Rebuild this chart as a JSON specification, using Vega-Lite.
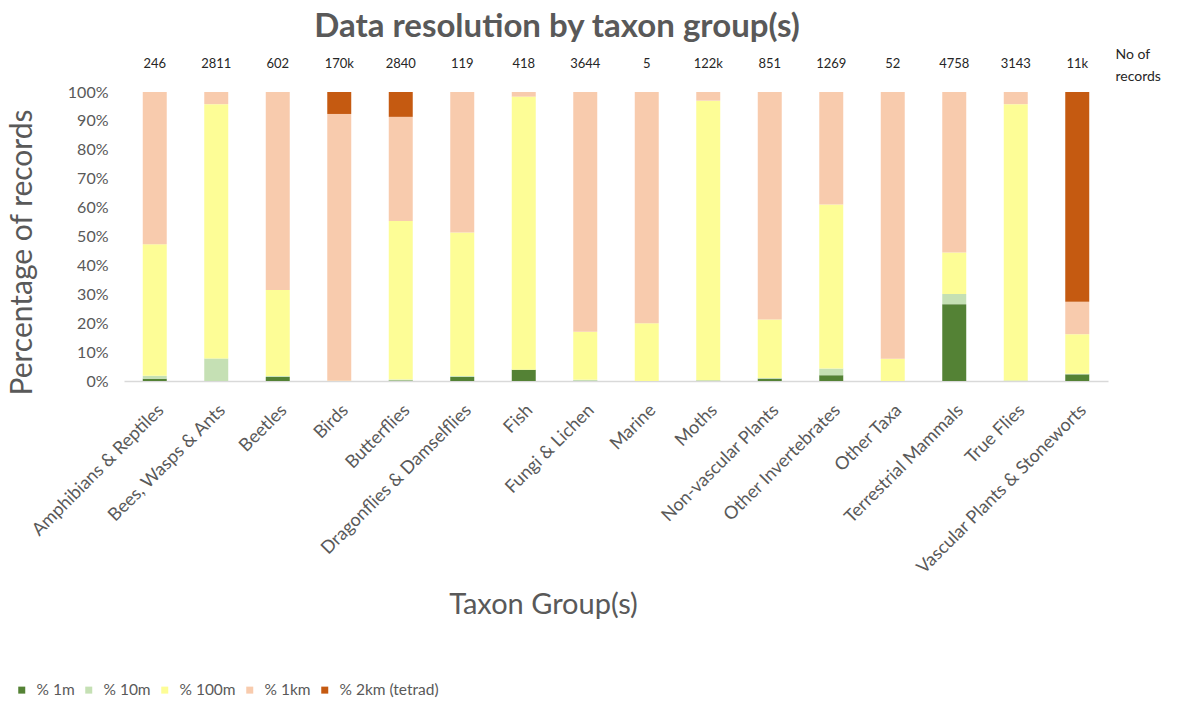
{
  "$schema": "https://vega.github.io/schema/vega-lite/v6.json",
  "width": 984,
  "height": 289,
  "autosize": {"type": "none"},
  "padding": {"left": 124, "top": 92, "right": 76, "bottom": 321},
  "background": "white",
  "config": {
    "view": {"stroke": null},
    "font": "Lato",
    "legend": {"padding": 0}
  },
  "title": {
    "text": "Data resolution by taxon group(s)",
    "fontSize": 33,
    "fontWeight": "bold",
    "color": "#595959",
    "anchor": "middle",
    "frame": "group",
    "dx": -59,
    "offset": 3
  },
  "datasets": {
    "segments": [
      {"taxon": "Amphibians & Reptiles", "res": "% 1m", "metres": 1, "pct": 0.8},
      {"taxon": "Amphibians & Reptiles", "res": "% 10m", "metres": 10, "pct": 1.0},
      {"taxon": "Amphibians & Reptiles", "res": "% 100m", "metres": 100, "pct": 45.5},
      {"taxon": "Amphibians & Reptiles", "res": "% 1km", "metres": 1000, "pct": 52.7},
      {"taxon": "Amphibians & Reptiles", "res": "% 2km (tetrad)", "metres": 2000, "pct": 0},
      {"taxon": "Bees, Wasps & Ants", "res": "% 1m", "metres": 1, "pct": 0},
      {"taxon": "Bees, Wasps & Ants", "res": "% 10m", "metres": 10, "pct": 7.8},
      {"taxon": "Bees, Wasps & Ants", "res": "% 100m", "metres": 100, "pct": 88.0},
      {"taxon": "Bees, Wasps & Ants", "res": "% 1km", "metres": 1000, "pct": 4.2},
      {"taxon": "Bees, Wasps & Ants", "res": "% 2km (tetrad)", "metres": 2000, "pct": 0},
      {"taxon": "Beetles", "res": "% 1m", "metres": 1, "pct": 1.4},
      {"taxon": "Beetles", "res": "% 10m", "metres": 10, "pct": 0.3},
      {"taxon": "Beetles", "res": "% 100m", "metres": 100, "pct": 29.8},
      {"taxon": "Beetles", "res": "% 1km", "metres": 1000, "pct": 68.5},
      {"taxon": "Beetles", "res": "% 2km (tetrad)", "metres": 2000, "pct": 0},
      {"taxon": "Birds", "res": "% 1m", "metres": 1, "pct": 0},
      {"taxon": "Birds", "res": "% 10m", "metres": 10, "pct": 0},
      {"taxon": "Birds", "res": "% 100m", "metres": 100, "pct": 0.1},
      {"taxon": "Birds", "res": "% 1km", "metres": 1000, "pct": 92.3},
      {"taxon": "Birds", "res": "% 2km (tetrad)", "metres": 2000, "pct": 7.6},
      {"taxon": "Butterflies", "res": "% 1m", "metres": 1, "pct": 0.2},
      {"taxon": "Butterflies", "res": "% 10m", "metres": 10, "pct": 0.3},
      {"taxon": "Butterflies", "res": "% 100m", "metres": 100, "pct": 54.9},
      {"taxon": "Butterflies", "res": "% 1km", "metres": 1000, "pct": 36.0},
      {"taxon": "Butterflies", "res": "% 2km (tetrad)", "metres": 2000, "pct": 8.6},
      {"taxon": "Dragonflies & Damselflies", "res": "% 1m", "metres": 1, "pct": 1.4},
      {"taxon": "Dragonflies & Damselflies", "res": "% 10m", "metres": 10, "pct": 0.3},
      {"taxon": "Dragonflies & Damselflies", "res": "% 100m", "metres": 100, "pct": 49.7},
      {"taxon": "Dragonflies & Damselflies", "res": "% 1km", "metres": 1000, "pct": 48.6},
      {"taxon": "Dragonflies & Damselflies", "res": "% 2km (tetrad)", "metres": 2000, "pct": 0},
      {"taxon": "Fish", "res": "% 1m", "metres": 1, "pct": 3.9},
      {"taxon": "Fish", "res": "% 10m", "metres": 10, "pct": 0},
      {"taxon": "Fish", "res": "% 100m", "metres": 100, "pct": 94.5},
      {"taxon": "Fish", "res": "% 1km", "metres": 1000, "pct": 1.6},
      {"taxon": "Fish", "res": "% 2km (tetrad)", "metres": 2000, "pct": 0},
      {"taxon": "Fungi & Lichen", "res": "% 1m", "metres": 1, "pct": 0.1},
      {"taxon": "Fungi & Lichen", "res": "% 10m", "metres": 10, "pct": 0.3},
      {"taxon": "Fungi & Lichen", "res": "% 100m", "metres": 100, "pct": 16.6},
      {"taxon": "Fungi & Lichen", "res": "% 1km", "metres": 1000, "pct": 83.0},
      {"taxon": "Fungi & Lichen", "res": "% 2km (tetrad)", "metres": 2000, "pct": 0},
      {"taxon": "Marine", "res": "% 1m", "metres": 1, "pct": 0},
      {"taxon": "Marine", "res": "% 10m", "metres": 10, "pct": 0},
      {"taxon": "Marine", "res": "% 100m", "metres": 100, "pct": 20},
      {"taxon": "Marine", "res": "% 1km", "metres": 1000, "pct": 80},
      {"taxon": "Marine", "res": "% 2km (tetrad)", "metres": 2000, "pct": 0},
      {"taxon": "Moths", "res": "% 1m", "metres": 1, "pct": 0.1},
      {"taxon": "Moths", "res": "% 10m", "metres": 10, "pct": 0.2},
      {"taxon": "Moths", "res": "% 100m", "metres": 100, "pct": 96.7},
      {"taxon": "Moths", "res": "% 1km", "metres": 1000, "pct": 3.0},
      {"taxon": "Moths", "res": "% 2km (tetrad)", "metres": 2000, "pct": 0},
      {"taxon": "Non-vascular Plants", "res": "% 1m", "metres": 1, "pct": 0.8},
      {"taxon": "Non-vascular Plants", "res": "% 10m", "metres": 10, "pct": 0.2},
      {"taxon": "Non-vascular Plants", "res": "% 100m", "metres": 100, "pct": 20.3},
      {"taxon": "Non-vascular Plants", "res": "% 1km", "metres": 1000, "pct": 78.7},
      {"taxon": "Non-vascular Plants", "res": "% 2km (tetrad)", "metres": 2000, "pct": 0},
      {"taxon": "Other Invertebrates", "res": "% 1m", "metres": 1, "pct": 2.0},
      {"taxon": "Other Invertebrates", "res": "% 10m", "metres": 10, "pct": 2.3},
      {"taxon": "Other Invertebrates", "res": "% 100m", "metres": 100, "pct": 56.8},
      {"taxon": "Other Invertebrates", "res": "% 1km", "metres": 1000, "pct": 38.9},
      {"taxon": "Other Invertebrates", "res": "% 2km (tetrad)", "metres": 2000, "pct": 0},
      {"taxon": "Other Taxa", "res": "% 1m", "metres": 1, "pct": 0},
      {"taxon": "Other Taxa", "res": "% 10m", "metres": 10, "pct": 0},
      {"taxon": "Other Taxa", "res": "% 100m", "metres": 100, "pct": 7.7},
      {"taxon": "Other Taxa", "res": "% 1km", "metres": 1000, "pct": 92.3},
      {"taxon": "Other Taxa", "res": "% 2km (tetrad)", "metres": 2000, "pct": 0},
      {"taxon": "Terrestrial Mammals", "res": "% 1m", "metres": 1, "pct": 26.6},
      {"taxon": "Terrestrial Mammals", "res": "% 10m", "metres": 10, "pct": 3.5},
      {"taxon": "Terrestrial Mammals", "res": "% 100m", "metres": 100, "pct": 14.4},
      {"taxon": "Terrestrial Mammals", "res": "% 1km", "metres": 1000, "pct": 55.5},
      {"taxon": "Terrestrial Mammals", "res": "% 2km (tetrad)", "metres": 2000, "pct": 0},
      {"taxon": "True Flies", "res": "% 1m", "metres": 1, "pct": 0},
      {"taxon": "True Flies", "res": "% 10m", "metres": 10, "pct": 0.2},
      {"taxon": "True Flies", "res": "% 100m", "metres": 100, "pct": 95.6},
      {"taxon": "True Flies", "res": "% 1km", "metres": 1000, "pct": 4.2},
      {"taxon": "True Flies", "res": "% 2km (tetrad)", "metres": 2000, "pct": 0},
      {"taxon": "Vascular Plants & Stoneworts", "res": "% 1m", "metres": 1, "pct": 2.3},
      {"taxon": "Vascular Plants & Stoneworts", "res": "% 10m", "metres": 10, "pct": 0.2},
      {"taxon": "Vascular Plants & Stoneworts", "res": "% 100m", "metres": 100, "pct": 13.7},
      {"taxon": "Vascular Plants & Stoneworts", "res": "% 1km", "metres": 1000, "pct": 11.2},
      {"taxon": "Vascular Plants & Stoneworts", "res": "% 2km (tetrad)", "metres": 2000, "pct": 72.6}
    ],
    "counts": [
      {"taxon": "Amphibians & Reptiles", "records": "246"},
      {"taxon": "Bees, Wasps & Ants", "records": "2811"},
      {"taxon": "Beetles", "records": "602"},
      {"taxon": "Birds", "records": "170k"},
      {"taxon": "Butterflies", "records": "2840"},
      {"taxon": "Dragonflies & Damselflies", "records": "119"},
      {"taxon": "Fish", "records": "418"},
      {"taxon": "Fungi & Lichen", "records": "3644"},
      {"taxon": "Marine", "records": "5"},
      {"taxon": "Moths", "records": "122k"},
      {"taxon": "Non-vascular Plants", "records": "851"},
      {"taxon": "Other Invertebrates", "records": "1269"},
      {"taxon": "Other Taxa", "records": "52"},
      {"taxon": "Terrestrial Mammals", "records": "4758"},
      {"taxon": "True Flies", "records": "3143"},
      {"taxon": "Vascular Plants & Stoneworts", "records": "11k"}
    ]
  },
  "encoding": {
    "x": {
      "field": "taxon",
      "type": "nominal",
      "sort": null,
      "scale": {"paddingInner": 0.61, "paddingOuter": 0.305},
      "axis": {
        "title": "Taxon Group(s)",
        "titleFontSize": 29,
        "titleFontWeight": "normal",
        "titleColor": "#595959",
        "titleX": 419,
        "titleY": 232,
        "titleAlign": "center",
        "titleBaseline": "alphabetic",
        "labelAngle": -45,
        "labelFontSize": 18,
        "labelColor": "#595959",
        "labelPadding": 20,
        "labelLimit": 400,
        "ticks": false,
        "tickSize": 0,
        "domainColor": "#D9D9D9",
        "domainWidth": 1.5,
        "grid": false
      }
    }
  },
  "layer": [
    {
      "data": {"name": "segments"},
      "mark": {"type": "bar", "strokeWidth": 0},
      "encoding": {
        "y": {
          "field": "pct",
          "type": "quantitative",
          "stack": "zero",
          "scale": {"domain": [0, 100], "nice": false},
          "axis": {
            "title": "Percentage of records",
            "titleFontSize": 30,
            "titleFontWeight": "normal",
            "titleColor": "#595959",
            "titleAngle": -90,
            "titleX": -93,
            "titleY": 160,
            "titleAlign": "center",
            "titleBaseline": "alphabetic",
            "values": [0, 10, 20, 30, 40, 50, 60, 70, 80, 90, 100],
            "labelExpr": "datum.value + '%'",
            "labelFontSize": 16,
            "labelColor": "#595959",
            "labelPadding": 16,
            "ticks": false,
            "tickSize": 0,
            "domain": false,
            "grid": false
          }
        },
        "color": {
          "field": "res",
          "type": "nominal",
          "scale": {
            "domain": ["% 1m", "% 10m", "% 100m", "% 1km", "% 2km (tetrad)"],
            "range": ["#548235", "#C5E0B4", "#FDFD96", "#F8CBAD", "#C55A11"]
          },
          "legend": {
            "title": null,
            "orient": "none",
            "direction": "horizontal",
            "legendX": -110,
            "legendY": 590,
            "symbolType": "square",
            "symbolSize": 49,
            "symbolStrokeWidth": 0,
            "labelFontSize": 15.5,
            "labelColor": "#595959",
            "labelOffset": 7,
            "columnPadding": 6
          }
        },
        "order": {"field": "metres", "type": "quantitative", "sort": "ascending"}
      }
    },
    {
      "data": {"name": "counts"},
      "mark": {"type": "text", "fontSize": 13, "color": "#262626", "baseline": "middle"},
      "encoding": {
        "y": {
          "datum": 109.7,
          "type": "quantitative",
          "scale": {"domain": [0, 100], "nice": false},
          "axis": {
            "orient": "right",
            "labels": false,
            "ticks": false,
            "tickSize": 0,
            "domain": false,
            "grid": false,
            "title": ["No of", "records"],
            "titleAngle": 0,
            "titleAlign": "left",
            "titleBaseline": "alphabetic",
            "titleX": 7,
            "titleY": -34,
            "titleFontSize": 14,
            "titleFontWeight": "normal",
            "titleColor": "#262626",
            "titleLineHeight": 22
          }
        },
        "text": {"field": "records"}
      }
    }
  ],
  "resolve": {"scale": {"y": "independent"}, "axis": {"y": "independent"}}
}
